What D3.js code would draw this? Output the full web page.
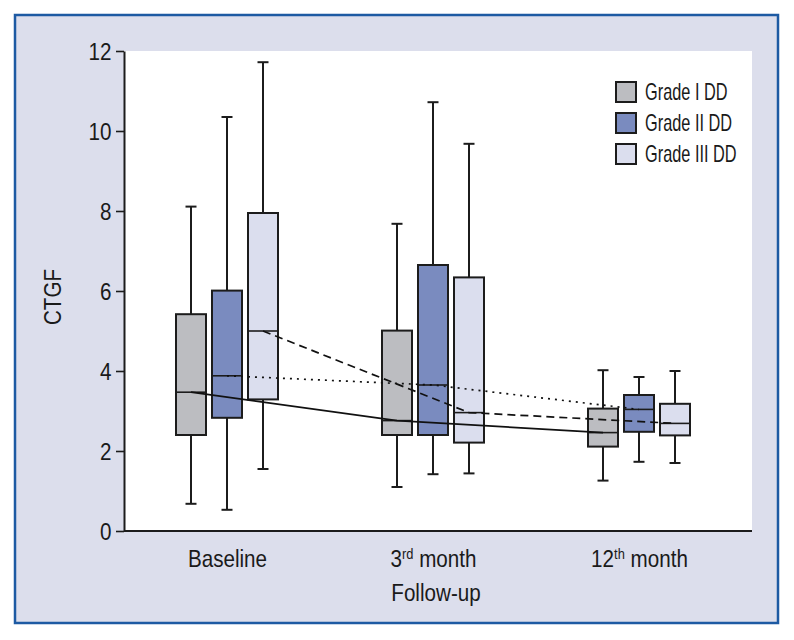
<!DOCTYPE html>
<html>
<head>
<meta charset="utf-8">
<script src="https://cdn.jsdelivr.net/npm/d3@7"></script>
<style>
  html, body { margin: 0; padding: 0; background: #ffffff; }
  svg text { font-family: "Liberation Sans", Arial, sans-serif; fill: #1a1a1a; }
</style>
</head>
<body>
<svg id="chart" width="794" height="640"></svg>
<script>
// ---- Data ----
const groups = ["Baseline", "3rd month", "12th month"];
const groupBase = ["Baseline", "3", "12"];
const groupSup = ["", "rd", "th"];
const groupRest = ["", " month", " month"];
const grades = ["Grade I DD", "Grade II DD", "Grade III DD"];
// rows = grades, columns = groups
const minVals = [[0.68, 1.10, 1.26], [0.53, 1.42, 1.73], [1.55, 1.44, 1.70]];
const q1Vals  = [[2.40, 2.40, 2.11], [2.83, 2.40, 2.48], [3.29, 2.21, 2.39]];
const medVals = [[3.47, 2.76, 2.46], [3.88, 3.65, 3.04], [5.00, 2.96, 2.69]];
const q3Vals  = [[5.42, 5.01, 3.06], [6.01, 6.65, 3.40], [7.95, 6.34, 3.18]];
const maxVals = [[8.11, 7.68, 4.02], [10.35, 10.72, 3.85], [11.72, 9.68, 4.00]];
const yTicks = [0, 2, 4, 6, 8, 10, 12];
const yTitle = "CTGF";
const xTitle = "Follow-up";

// ---- Styles ----
const fills = ["#bcbdc1", "#7a8bbf", "#dbdeee"];
const dashes = [null, "2,5", "8,5"];
const ink = "#1c1c1c";
const FS = 24;      // font size
const SX = 0.86;    // horizontal condensing for a narrow look

const svg = d3.select("#chart");

// Outer panel
svg.append("rect")
  .attr("x", 15).attr("y", 15).attr("width", 763).attr("height", 608)
  .attr("fill", "#dcdeec").attr("stroke", "#1d5aa3").attr("stroke-width", 2.5);

const plot = { left: 124, right: 752, top: 51, bottom: 531 };

// white plot area
svg.append("rect")
  .attr("x", plot.left).attr("y", plot.top)
  .attr("width", plot.right - plot.left).attr("height", plot.bottom - plot.top)
  .attr("fill", "#ffffff");

const y = d3.scaleLinear().domain([0, 12]).range([plot.bottom, plot.top]);
const x = d3.scalePoint().domain(groups).range([227, 639]);
const sub = d3.scaleBand().domain(grades).range([-54, 54]).paddingInner(1 / 6).paddingOuter(1 / 12);
const bw = sub.bandwidth();
const cx = (gi, si) => x(groups[gi]) + sub(grades[si]) + bw / 2;

// Boxes
grades.forEach((g, si) => {
  const layer = svg.append("g");
  groups.forEach((grp, gi) => {
    const c = cx(gi, si);
    const gg = layer.append("g");
    gg.append("line").attr("x1", c).attr("x2", c)
      .attr("y1", y(q3Vals[si][gi])).attr("y2", y(maxVals[si][gi]))
      .attr("stroke", ink).attr("stroke-width", 2);
    gg.append("line").attr("x1", c).attr("x2", c)
      .attr("y1", y(q1Vals[si][gi])).attr("y2", y(minVals[si][gi]))
      .attr("stroke", ink).attr("stroke-width", 2);
    [maxVals[si][gi], minVals[si][gi]].forEach(v => {
      gg.append("line").attr("x1", c - 5.5).attr("x2", c + 5.5)
        .attr("y1", y(v)).attr("y2", y(v))
        .attr("stroke", ink).attr("stroke-width", 2);
    });
    gg.append("rect")
      .attr("x", c - bw / 2).attr("width", bw)
      .attr("y", y(q3Vals[si][gi]))
      .attr("height", y(q1Vals[si][gi]) - y(q3Vals[si][gi]))
      .attr("fill", fills[si]).attr("stroke", ink).attr("stroke-width", 2);
    gg.append("line").attr("x1", c - bw / 2).attr("x2", c + bw / 2)
      .attr("y1", y(medVals[si][gi])).attr("y2", y(medVals[si][gi]))
      .attr("stroke", ink).attr("stroke-width", 1.6);
  });
});

// Median trend lines
const line = d3.line().x(d => d[0]).y(d => y(d[1]));
grades.forEach((g, si) => {
  const pts = groups.map((grp, gi) => [cx(gi, si), medVals[si][gi]]);
  svg.append("path")
    .attr("d", line(pts))
    .attr("fill", "none").attr("stroke", "#111")
    .attr("stroke-width", 1.7)
    .attr("stroke-dasharray", dashes[si]);
});

// Y axis
const yAxis = svg.append("g")
  .attr("transform", `translate(${plot.left},0)`)
  .call(d3.axisLeft(y).tickValues(yTicks).tickSize(8).tickSizeOuter(0).tickPadding(4));
yAxis.select(".domain").attr("stroke", ink).attr("stroke-width", 2);
yAxis.selectAll(".tick line").attr("stroke", ink).attr("stroke-width", 1.6);
yAxis.selectAll(".tick text")
  .style("font-family", '"Liberation Sans", Arial, sans-serif')
  .attr("font-size", FS).attr("fill", "#1a1a1a")
  .attr("x", -12.5 / SX).attr("dy", "0.34em")
  .attr("transform", `scale(${SX},1)`);

// X axis
const xAxis = svg.append("g")
  .attr("transform", `translate(0,${plot.bottom})`)
  .call(d3.axisBottom(x).tickSize(0).tickSizeOuter(0).tickPadding(19));
xAxis.select(".domain")
  .attr("d", `M${plot.left},0H${plot.right}`)
  .attr("stroke", ink).attr("stroke-width", 2);
xAxis.selectAll(".tick text").each(function (d) {
  const gi = groups.indexOf(d);
  const t = d3.select(this).text(null)
    .style("font-family", '"Liberation Sans", Arial, sans-serif')
    .attr("font-size", FS).attr("fill", "#1a1a1a")
    .attr("transform", `scale(${SX},1)`);
  t.append("tspan").text(groupBase[gi]);
  if (groupSup[gi]) {
    t.append("tspan").text(groupSup[gi]).attr("font-size", 15).attr("dy", -8);
    t.append("tspan").text(groupRest[gi]).attr("dy", 8);
  }
});

// Axis titles
svg.append("text")
  .attr("transform", `translate(${x(groups[1]) + 3},601) scale(${SX},1)`)
  .attr("text-anchor", "middle").attr("font-size", FS)
  .text(xTitle);
svg.append("text")
  .attr("transform", `translate(61,297) rotate(-90) scale(${SX},1)`)
  .attr("text-anchor", "middle").attr("font-size", FS)
  .text(yTitle);

// Legend
const legend = svg.append("g").attr("transform", "translate(616,82)");
grades.forEach((g, i) => {
  const row = legend.append("g").attr("transform", `translate(0,${i * 31})`);
  row.append("rect").attr("x", 0).attr("y", 0).attr("width", 20).attr("height", 20)
    .attr("fill", fills[i]).attr("stroke", ink).attr("stroke-width", 2);
  row.append("text")
    .attr("transform", "translate(29,18) scale(0.71,1)")
    .attr("font-size", 23).text(g);
});
</script>
</body>
</html>
